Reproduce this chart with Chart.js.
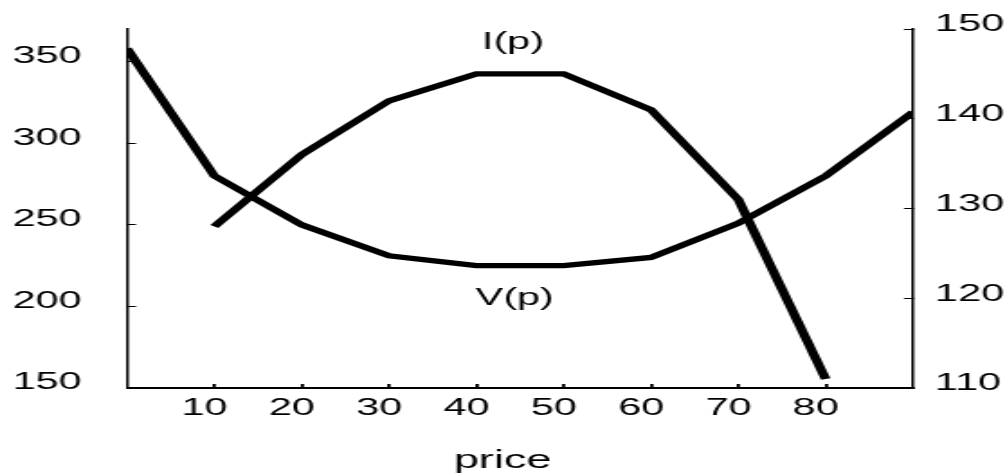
<!DOCTYPE html>
<html>
<head>
<meta charset="utf-8">
<script src="https://cdn.jsdelivr.net/npm/chart.js@4/dist/chart.umd.min.js"></script>
<style>
  html, body { margin: 0; padding: 0; background: #fff; overflow: hidden; }
  /* the plot is laid out on a narrow canvas and widened to the page */
  #wrap { position: absolute; left: 0; top: 0; width: 558px; height: 476px;
          transform: scaleX(1.8011); transform-origin: 0 0; }
</style>
</head>
<body>
<div id="wrap"><canvas id="c" width="558" height="476"></canvas></div>
<script>
// price grid and the two curves
const prices  = [0, 10, 20, 30, 40, 50, 60, 70, 80, 90];
const vValues = [358, 280, 250, 231, 225, 225, 230, 251, 280, 319];   // V(p), left axis
const iValues = [null, 128, 136, 142, 145, 145, 141, 131, 111, null]; // I(p), right axis

// tick values on each axis
const xTicks     = [10, 20, 30, 40, 50, 60, 70, 80];
const leftTicks  = [150, 200, 250, 300, 350];
const rightTicks = [110, 120, 130, 140, 150];

// curve names written next to the curves (in data coordinates)
const curveLabels = [
  { text: 'I(p)', x: 44.2, y: 148.5, axis: 'y1' },
  { text: 'V(p)', x: 44.4, y: 205,   axis: 'y'  }
];

const FONT = "'Liberation Sans', Arial, Helvetica, sans-serif";
Chart.defaults.font.family = FONT;
Chart.defaults.color = '#000';

const toPoints = (ys) => prices.map((p, i) => ({ x: p, y: ys[i] }));
const setTicks = (vals) => (scale) => { scale.ticks = vals.map(v => ({ value: v })); };
// fixed box size; label overhang must not push the plot area around
const fixBox = (w, h) => (s) => {
  if (w !== null) s.width = w;
  if (h !== null) s.height = h;
  s.paddingTop = 0; s.paddingBottom = 0; s.paddingLeft = 0; s.paddingRight = 0;
};

const curveLabelPlugin = {
  id: 'curveLabels',
  afterDatasetsDraw(chart) {
    const { ctx, scales } = chart;
    ctx.save();
    ctx.fillStyle = '#000';
    ctx.font = '23px ' + FONT;
    ctx.textAlign = 'center';
    ctx.textBaseline = 'middle';
    curveLabels.forEach(l => {
      ctx.fillText(l.text, scales.x.getPixelForValue(l.x), scales[l.axis].getPixelForValue(l.y));
    });
    ctx.restore();
  }
};

new Chart(document.getElementById('c'), {
  type: 'line',
  data: {
    datasets: [
      { label: 'V(p)', data: toPoints(vValues), yAxisID: 'y',
        borderColor: '#000', borderWidth: 5.4, pointRadius: 0, tension: 0, fill: false },
      { label: 'I(p)', data: toPoints(iValues), yAxisID: 'y1',
        borderColor: '#000', borderWidth: 5.4, pointRadius: 0, tension: 0, fill: false, spanGaps: false }
    ]
  },
  options: {
    responsive: false,
    animation: false,
    devicePixelRatio: 1,
    layout: { padding: { top: 29, left: 0, right: 0, bottom: 0 } },
    plugins: {
      legend: { display: false },
      tooltip: { enabled: false },
      title: {
        display: true, text: 'price', position: 'bottom', color: '#000',
        font: { size: 25, weight: 'normal' }, padding: { top: 2, bottom: 0 }
      }
    },
    scales: {
      x: {
        type: 'linear', position: 'bottom', min: 0, max: 90, bounds: 'data',
        afterBuildTicks: setTicks(xTicks),
        afterFit: fixBox(null, 56),
        border: { display: true, color: '#000', width: 2 },
        grid: { drawOnChartArea: false, color: '#000', tickLength: -4, tickWidth: 1.8, lineWidth: 1.8 },
        ticks: { color: '#000', font: { size: 23 }, padding: 11, labelOffset: -5.5,
                 maxRotation: 0, autoSkip: false }
      },
      y: {
        type: 'linear', position: 'left', min: 150, max: 370, bounds: 'data',
        afterBuildTicks: setTicks(leftTicks),
        afterFit: fixBox(70.5, null),
        border: { display: true, color: '#000', width: 1.5 },
        grid: { drawOnChartArea: false, color: '#000', tickLength: -5, lineWidth: 1 },
        ticks: { color: '#000', font: { size: 23 }, padding: 30.1, labelOffset: -5 }
      },
      y1: {
        type: 'linear', position: 'right', min: 110, max: 150, bounds: 'data',
        afterBuildTicks: setTicks(rightTicks),
        afterFit: fixBox(51.1, null),
        border: { display: true, color: '#000', width: 1.5 },
        grid: { drawOnChartArea: false, color: '#000', tickLength: -5, lineWidth: 1 },
        ticks: { color: '#000', font: { size: 23 }, padding: 17.2, labelOffset: -4 }
      }
    }
  },
  plugins: [curveLabelPlugin]
});
</script>
</body>
</html>
